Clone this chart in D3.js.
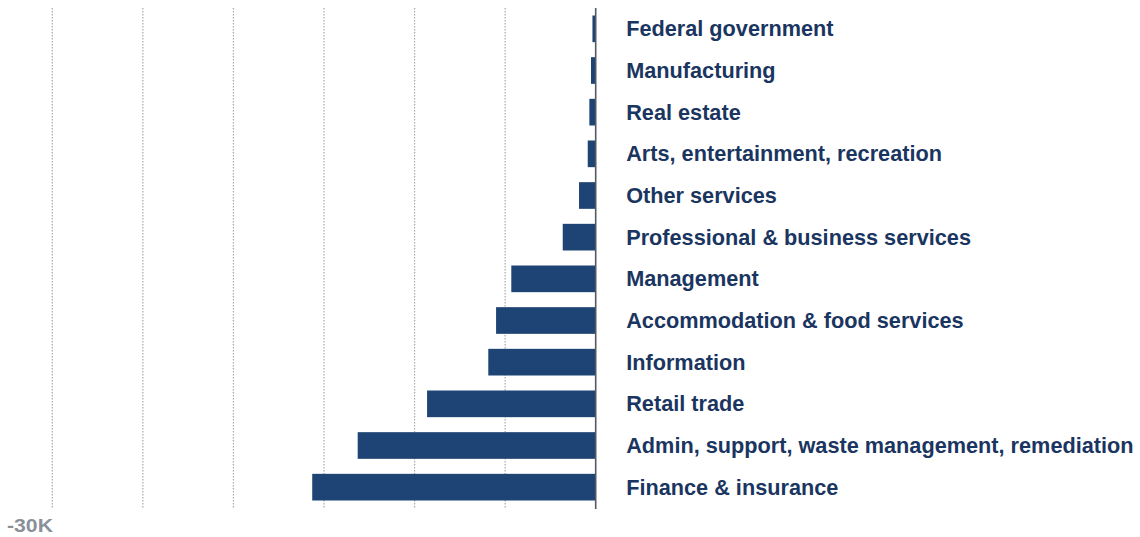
<!DOCTYPE html>
<html>
<head>
<meta charset="utf-8">
<script src="https://cdn.jsdelivr.net/npm/d3@7"></script>
<style>
  html, body { margin: 0; padding: 0; background: #ffffff; }
  svg { display: block; }
</style>
</head>
<body>
<svg id="chart" width="1140" height="537"></svg>
<script>
// Job changes by industry, thousands
const industries = [
  "Federal government",
  "Manufacturing",
  "Real estate",
  "Arts, entertainment, recreation",
  "Other services",
  "Professional & business services",
  "Management",
  "Accommodation & food services",
  "Information",
  "Retail trade",
  "Admin, support, waste management, remediation",
  "Finance & insurance"
];
const changes = [-0.18, -0.26, -0.35, -0.44, -0.92, -1.82, -4.66, -5.5, -5.93, -9.31, -13.14, -15.65];
const gridTicks = [-30, -25, -20, -15, -10, -5];
const tickLabels = ["-30K"];

const svg = d3.select("#chart");

const x = d3.scaleLinear().domain([-30, 0]).range([52.3, 595.7]);
const y = d3.scaleBand().domain(industries).range([8, 508]).paddingInner(0.36).paddingOuter(0.18);

// dotted vertical gridlines
svg.append("g")
  .selectAll("line")
  .data(gridTicks)
  .join("line")
  .attr("x1", d => x(d)).attr("x2", d => x(d))
  .attr("y1", 8).attr("y2", 508)
  .attr("stroke", "#a8a8a8")
  .attr("stroke-width", 1.2)
  .attr("stroke-dasharray", "1.5,1.5");

// bars
svg.append("g")
  .selectAll("rect")
  .data(industries)
  .join("rect")
  .attr("x", (d, i) => x(changes[i]))
  .attr("y", d => y(d))
  .attr("width", (d, i) => x(0) - x(changes[i]))
  .attr("height", y.bandwidth())
  .attr("fill", "#1d4474");

// zero baseline
svg.append("line")
  .attr("x1", x(0)).attr("x2", x(0))
  .attr("y1", 8).attr("y2", 509)
  .attr("stroke", "#555a62")
  .attr("stroke-width", 1.6);

// category labels
svg.append("g")
  .selectAll("text")
  .data(industries)
  .join("text")
  .attr("x", x(0) + 30.5)
  .attr("y", d => y(d) + y.bandwidth() / 2)
  .attr("dy", "0.35em")
  .attr("font-family", "'Liberation Sans', Arial, sans-serif")
  .attr("font-weight", "bold")
  .attr("font-size", 21.7)
  .attr("fill", "#1a3560")
  .text(d => d);

// axis tick label
svg.append("g")
  .selectAll("text")
  .data(tickLabels)
  .join("text")
  .attr("x", 7)
  .attr("y", 531.5)
  .attr("textLength", 46)
  .attr("lengthAdjust", "spacingAndGlyphs")
  .attr("font-family", "'Liberation Sans', Arial, sans-serif")
  .attr("font-weight", "bold")
  .attr("font-size", 18)
  .attr("fill", "#8a9099")
  .text(d => d);
</script>
</body>
</html>
